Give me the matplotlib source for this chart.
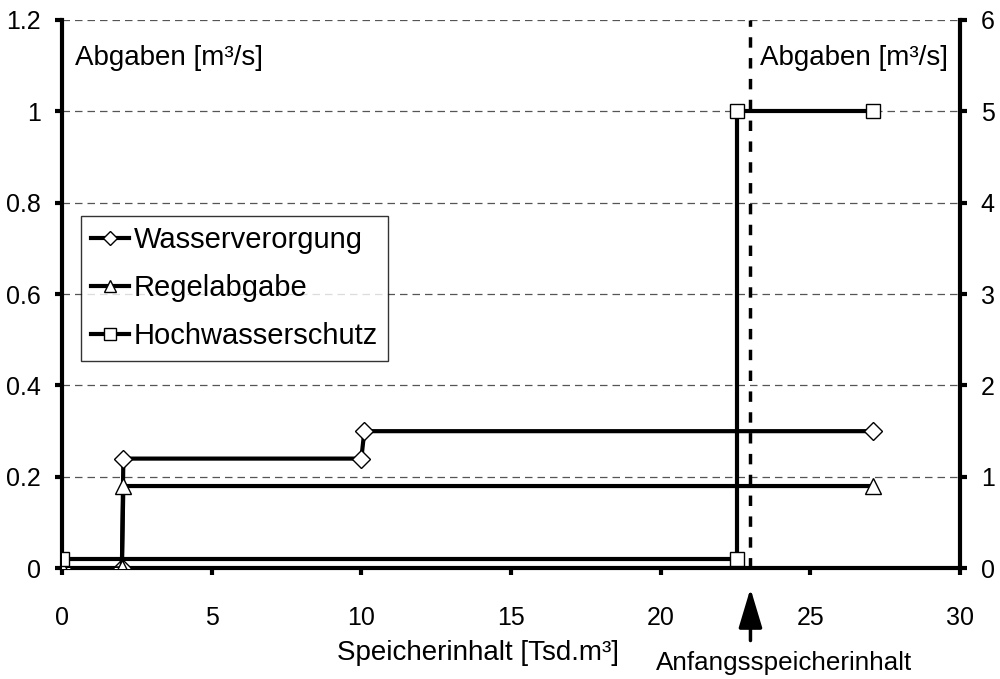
import matplotlib
matplotlib.use("Agg")
import matplotlib.pyplot as plt

plt.rcParams['font.family'] = ['Liberation Sans', 'DejaVu Sans']

# Data
wv_x = [0, 2.0, 2.05, 10.0, 10.1, 27.1]
wv_y = [0, 0, 0.24, 0.24, 0.30, 0.30]
ra_x = [0, 2.0, 2.05, 27.1]
ra_y = [0, 0, 0.18, 0.18]
hw_x = [0, 22.55, 22.55, 27.1]
hw_y = [0.02, 0.02, 1.0, 1.0]
start_storage = 23.0

series_labels = ["Wasserverorgung", "Regelabgabe", "Hochwasserschutz"]
left_ticks = [0, 0.2, 0.4, 0.6, 0.8, 1, 1.2]
left_ticklabels = ["0", "0.2", "0.4", "0.6", "0.8", "1", "1.2"]
right_ticks = [0, 1, 2, 3, 4, 5, 6]
x_ticks = [0, 5, 10, 15, 20, 25, 30]

fig = plt.figure(figsize=(10, 6.79), dpi=100)
ax = fig.add_axes([0.062, 0.163, 0.898, 0.808])

ax.set_xlim(0, 30)
ax.set_ylim(0, 1.2)

for yv in left_ticks[1:]:
    ax.axhline(yv, color='#555555', lw=0.9, ls=(0, (6, 4)), zorder=1)

lw = 3.0
ax.plot(wv_x, wv_y, color='black', lw=lw, marker='D', ms=9, mfc='white',
        mec='black', mew=1.0, label=series_labels[0], zorder=3, solid_joinstyle='miter')
ax.plot(ra_x, ra_y, color='black', lw=lw, marker='^', ms=11, mfc='white',
        mec='black', mew=1.0, label=series_labels[1], zorder=4, solid_joinstyle='miter')
ax.plot(hw_x, hw_y, color='black', lw=lw, marker='s', ms=10, mfc='white',
        mec='black', mew=1.0, label=series_labels[2], zorder=5, solid_joinstyle='miter')

ax.axvline(start_storage, color='black', lw=2.5, ls=(0, (3, 3)), zorder=2)

ax.set_xticks(x_ticks)
ax.set_yticks(left_ticks)
ax.set_yticklabels(left_ticklabels)
ax.tick_params(axis='both', labelsize=18, width=3, length=5, direction='out')
ax.tick_params(axis='y', pad=10)
ax.tick_params(axis='x', pad=22)

ax.spines['top'].set_visible(False)
ax.spines['right'].set_visible(False)
ax.spines['left'].set_linewidth(3)
ax.spines['bottom'].set_linewidth(3)

ax2 = ax.twinx()
ax2.set_ylim(0, 6)
ax2.set_yticks(right_ticks)
ax2.tick_params(axis='y', labelsize=18, width=3, length=5, direction='out', pad=10)
ax2.spines['right'].set_linewidth(3)
ax2.spines['top'].set_visible(False)
ax2.spines['left'].set_visible(False)
ax2.spines['bottom'].set_visible(False)

ax.text(0.43, 1.117, "Abgaben [m³/s]", fontsize=20, va='center', ha='left')
ax.text(23.33, 1.117, "Abgaben [m³/s]", fontsize=20, va='center', ha='left')

ax.text(13.9, -0.186, "Speicherinhalt [Tsd.m³]", fontsize=20, ha='center', va='center',
        clip_on=False)

ax.annotate("", xy=(start_storage, -0.044), xytext=(start_storage, -0.158),
            xycoords='data', textcoords='data', annotation_clip=False,
            arrowprops=dict(arrowstyle='-|>,head_length=1.1,head_width=0.33',
                            color='black', lw=2.5, mutation_scale=22, shrinkA=0, shrinkB=0))
ax.text(24.13, -0.208, "Anfangsspeicherinhalt", fontsize=18.7,
        ha='center', va='center', clip_on=False)

leg = ax.legend(loc='upper left', bbox_to_anchor=(0.0211, 0.6423), fontsize=21,
                frameon=True, fancybox=False, edgecolor='black', handlelength=1.3,
                handletextpad=0.17, borderpad=0.35, labelspacing=0.69, markerscale=0.8,
                borderaxespad=0)
leg.get_frame().set_linewidth(1.0)
leg.set_zorder(10)

fig.savefig("out.png", dpi=100)
